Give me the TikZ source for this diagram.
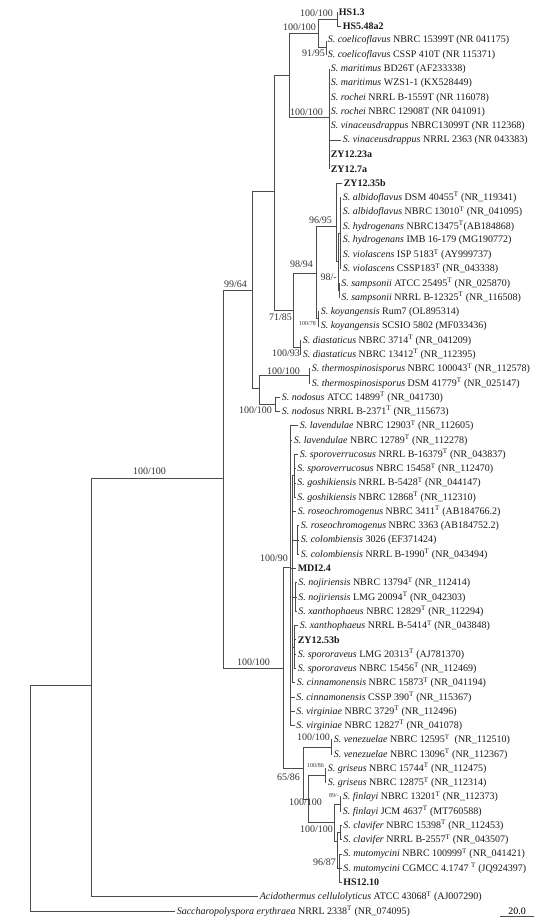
\documentclass[tikz,border=0pt]{standalone}
\usepackage{fontspec}
\setmainfont{Liberation Serif}
\newcommand{\strep}[1]{\textit{S. #1}}
\newcommand{\tsup}{\textsuperscript{T}}

\begin{document}
\begin{tikzpicture}[x=1pt, y=-14.27pt, font=\fontsize{10}{12}\selectfont,
  branch/.style={draw=black!70, line width=0.8pt},
  leaf/.style={anchor=west, inner xsep=1.6pt, inner ysep=0pt, text=black!90},
  boot/.style={anchor=east, inner sep=0pt, text=black!80},
  tinyboot/.style={boot, font=\fontsize{6}{7}\selectfont}]
  \useasboundingbox (0,-0.841) rectangle (554,63.70);

  %% Leaves (top to bottom)
  \node[leaf] (hsa)  at (337,0)  {\textbf{HS1.3}};
  \node[leaf] (hsb)  at (341,1)  {\textbf{HS5.48a2}};
  \node[leaf] (coea) at (326,2)  {\strep{coelicoflavus} NBRC 15399T (NR 041175)};
  \node[leaf] (coeb) at (326,3)  {\strep{coelicoflavus} CSSP 410T (NR 115371)};
  \node[leaf] (mara) at (329,4)  {\strep{maritimus} BD26T (AF233338)};
  \node[leaf] (marb) at (329,5)  {\strep{maritimus} WZS1-1 (KX528449)};
  \node[leaf] (roca) at (329,6)  {\strep{rochei} NRRL B-1559T (NR 116078)};
  \node[leaf] (rocb) at (329,7)  {\strep{rochei} NBRC 12908T (NR 041091)};
  \node[leaf] (vina) at (329,8)  {\strep{vinaceusdrappus} NBRC13099T (NR 112368)};
  \node[leaf] (vinb) at (341,9)  {\strep{vinaceusdrappus} NRRL 2363 (NR 043383)};
  \node[leaf] (zya)  at (329,10) {\textbf{ZY12.23a}};
  \node[leaf] (zyb)  at (329,11) {\textbf{ZY12.7a}};
  \node[leaf] (zyc)  at (342,12) {\textbf{ZY12.35b}};
  \node[leaf] (alba) at (341,13) {\strep{albidoflavus} DSM 40455\tsup{} (NR\_119341)};
  \node[leaf] (albb) at (341,14) {\strep{albidoflavus} NBRC 13010\tsup{} (NR\_041095)};
  \node[leaf] (hyda) at (341,15) {\strep{hydrogenans} NBRC13475\tsup(AB184868)};
  \node[leaf] (hydb) at (341,16) {\strep{hydrogenans} IMB 16-179 (MG190772)};
  \node[leaf] (vioa) at (341,17) {\strep{violascens} ISP 5183\tsup{} (AY999737)};
  \node[leaf] (viob) at (341,18) {\strep{violascens} CSSP183\tsup{} (NR\_043338)};
  \node[leaf] (sama) at (339.5,19) {\strep{sampsonii} ATCC 25495\tsup{} (NR\_025870)};
  \node[leaf] (samb) at (339.5,20) {\strep{sampsonii} NRRL B-12325\tsup{} (NR\_116508)};
  \node[leaf] (koya) at (319,21) {\strep{koyangensis} Rum7 (OL895314)};
  \node[leaf] (koyb) at (319,22) {\strep{koyangensis} SCSIO 5802 (MF033436)};
  \node[leaf] (diaa) at (301,23) {\strep{diastaticus} NBRC 3714\tsup{} (NR\_041209)};
  \node[leaf] (diab) at (301,24) {\strep{diastaticus} NBRC 13412\tsup{} (NR\_112395)};
  \node[leaf] (thea) at (310,25) {\strep{thermospinosisporus} NBRC 100043\tsup{} (NR\_112578)};
  \node[leaf] (theb) at (310,26) {\strep{thermospinosisporus} DSM 41779\tsup{} (NR\_025147)};
  \node[leaf] (noda) at (280,27) {\strep{nodosus} ATCC 14899\tsup{} (NR\_041730)};
  \node[leaf] (nodb) at (280,28) {\strep{nodosus} NRRL B-2371\tsup{} (NR\_115673)};
  \node[leaf] (lava) at (298,29) {\strep{lavendulae} NBRC 12903\tsup{} (NR\_112605)};
  \node[leaf] (lavb) at (292,30) {\strep{lavendulae} NBRC 12789\tsup{} (NR\_112278)};
  \node[leaf] (spva) at (298,31) {\strep{sporoverrucosus} NRRL B-16379\tsup{} (NR\_043837)};
  \node[leaf] (spvb) at (295.5,32) {\strep{sporoverrucosus} NBRC 15458\tsup{} (NR\_112470)};
  \node[leaf] (gosa) at (295.5,33) {\strep{goshikiensis} NRRL B-5428\tsup{} (NR\_044147)};
  \node[leaf] (gosb) at (295.5,34) {\strep{goshikiensis} NBRC 12868\tsup{} (NR\_112310)};
  \node[leaf] (rosa) at (296,35) {\strep{roseochromogenus} NBRC 3411\tsup{} (AB184766.2)};
  \node[leaf] (rosb) at (299,36) {\strep{roseochromogenus} NBRC 3363 (AB184752.2)};
  \node[leaf] (cola) at (299,37) {\strep{colombiensis} 3026 (EF371424)};
  \node[leaf] (colb) at (299,38) {\strep{colombiensis} NRRL B-1990\tsup{} (NR\_043494)};
  \node[leaf] (mdi)  at (296,39) {\textbf{MDI2.4}};
  \node[leaf] (noja) at (296.5,40) {\strep{nojiriensis} NBRC 13794\tsup{} (NR\_112414)};
  \node[leaf] (nojb) at (296.5,41) {\strep{nojiriensis} LMG 20094\tsup{} (NR\_042303)};
  \node[leaf] (xana) at (296.5,42) {\strep{xanthophaeus} NBRC 12829\tsup{} (NR\_112294)};
  \node[leaf] (xanb) at (298,43) {\strep{xanthophaeus} NRRL B-5414\tsup{} (NR\_043848)};
  \node[leaf] (zyd)  at (296,44) {\textbf{ZY12.53b}};
  \node[leaf] (spra) at (296,45) {\strep{spororaveus} LMG 20313\tsup{} (AJ781370)};
  \node[leaf] (sprb) at (296,46) {\strep{spororaveus} NBRC 15456\tsup{} (NR\_112469)};
  \node[leaf] (cina) at (295,47) {\strep{cinnamonensis} NBRC 15873\tsup{} (NR\_041194)};
  \node[leaf] (cinb) at (294.5,48) {\strep{cinnamonensis} CSSP 390\tsup{} (NR\_115367)};
  \node[leaf] (vira) at (294.5,49) {\strep{virginiae} NBRC 3729\tsup{} (NR\_112496)};
  \node[leaf] (virb) at (294.5,50) {\strep{virginiae} NBRC 12827\tsup{} (NR\_041078)};
  \node[leaf] (vena) at (332,51) {\strep{venezuelae} NBRC 12595\tsup{}\ \ (NR\_112510)};
  \node[leaf] (venb) at (332,52) {\strep{venezuelae} NBRC 13096\tsup{} (NR\_112367)};
  \node[leaf] (gria) at (326,53) {\strep{griseus} NBRC 15744\tsup{} (NR\_112475)};
  \node[leaf] (grib) at (326,54) {\strep{griseus} NBRC 12875\tsup{} (NR\_112314)};
  \node[leaf] (fina) at (341,55) {\strep{finlayi} NBRC 13201\tsup{} (NR\_112373)};
  \node[leaf] (finb) at (341,56) {\strep{finlayi} JCM 4637\tsup{} (MT760588)};
  \node[leaf] (claa) at (341.5,57) {\strep{clavifer} NBRC 15398\tsup{} (NR\_112453)};
  \node[leaf] (clab) at (341.5,58) {\strep{clavifer} NRRL B-2557\tsup{} (NR\_043507)};
  \node[leaf] (muta) at (341.5,59) {\strep{mutomycini} NBRC 100999\tsup{} (NR\_041421)};
  \node[leaf] (mutb) at (341.5,60) {\strep{mutomycini} CGMCC 4.1747 \tsup{} (JQ924397)};
  \node[leaf] (hsc)  at (341.5,61) {\textbf{HS12.10}};
  \node[leaf] (acid) at (258,62) {\textit{Acidothermus cellulolyticus} ATCC 43068\tsup{} (AJ007290)};
  \node[leaf] (sacc) at (175,63) {\textit{Saccharopolyspora erythraea} NRRL 2338\tsup{} (NR\_074095)};

  %% Internal nodes
  \coordinate (nH)   at (337,0.5);
  \coordinate (nC1)  at (326,2.5);
  \coordinate (nG2)  at (318,1.5);
  \coordinate (nM)   at (329,7.4);
  \coordinate (nG1)  at (289,4.45);
  \coordinate (nIC)  at (340,15.5);
  \coordinate (nSA)  at (339,19.5);
  \coordinate (nN98) at (338,17.5);
  \coordinate (nA96) at (336,15);
  \coordinate (nKO)  at (318,21.5);
  \coordinate (nA98) at (316,18.3);
  \coordinate (nDI)  at (300,23.5);
  \coordinate (nK)   at (293,20.9);
  \coordinate (nG0)  at (274,12.6);
  \coordinate (nTH)  at (309,25.5);
  \coordinate (nNO)  at (275,27.5);
  \coordinate (nTN)  at (259,26.4);
  \coordinate (nN252) at (252,19.5);
  \coordinate (nSG)  at (294,32.5);
  \coordinate (nRC)  at (297,37);
  \coordinate (nNX)  at (295,41);
  \coordinate (nXS)  at (294,44.5);
  \coordinate (nIN)  at (292,39);
  \coordinate (nN90) at (290,38.9);
  \coordinate (nVE)  at (331,51.5);
  \coordinate (nGS)  at (325,53.5);
  \coordinate (nFI)  at (340,55.5);
  \coordinate (nCL)  at (340,57.5);
  \coordinate (nMU)  at (339,60);
  \coordinate (nW)   at (337,58.1);
  \coordinate (nZ)   at (334,56.8);
  \coordinate (nX)   at (308,55.2);
  \coordinate (nV65) at (303,53.0);
  \coordinate (nL283) at (283,46.0);
  \coordinate (nR223) at (223,32.7);
  \coordinate (nR92) at (91,47.2);
  \coordinate (nRoot) at (30,55.1);

  %% Branches
  \draw[branch] (nRoot) |- (nR92) (nRoot) |- (sacc.west);
  \draw[branch] (nR92) |- (nR223) (nR92) |- (acid.west);
  \draw[branch] (nR223) |- (nN252) (nR223) |- (nL283);
  \draw[branch] (nN252) |- (nG0) (nN252) |- (nTN);
  \draw[branch] (nG0) |- (nG1) (nG0) |- (nK);
  \draw[branch] (nG1) |- (nG2) (nG1) |- (nM);
  \draw[branch] (nG2) |- (nH) (nG2) |- (nC1);
  \draw[branch] (nH) |- (hsa.west) (nH) |- (hsb.west);
  \draw[branch] (nC1) |- (coea.west) (nC1) |- (coeb.west);
  \draw[branch] (nM) |- (mara.west) (nM) |- (marb.west) (nM) |- (roca.west)
    (nM) |- (rocb.west) (nM) |- (vina.west) (nM) |- (vinb.west)
    (nM) |- (zya.west) (nM) |- (zyb.west);
  \draw[branch] (nK) |- (nA98) (nK) |- (nDI);
  \draw[branch] (nA98) |- (nA96) (nA98) |- (nKO);
  \draw[branch] (nA96) |- (zyc.west) (nA96) |- (nN98);
  \draw[branch] (nN98) |- (nIC) (nN98) |- (nSA);
  \draw[branch] (nIC) |- (alba.west) (nIC) |- (albb.west) (nIC) |- (hyda.west)
    (nIC) |- (hydb.west) (nIC) |- (vioa.west) (nIC) |- (viob.west);
  \draw[branch] (nSA) |- (sama.west) (nSA) |- (samb.west);
  \draw[branch] (nKO) |- (koya.west) (nKO) |- (koyb.west);
  \draw[branch] (nDI) |- (diaa.west) (nDI) |- (diab.west);
  \draw[branch] (nTN) |- (nTH) (nTN) |- (nNO);
  \draw[branch] (nTH) |- (thea.west) (nTH) |- (theb.west);
  \draw[branch] (nNO) |- (noda.west) (nNO) |- (nodb.west);
  \draw[branch] (nL283) |- (nN90) (nL283) |- (nV65);
  \draw[branch] (nN90) |- (lava.west) (nN90) |- (lavb.west) (nN90) |- (nIN)
    (nN90) |- (cinb.west) (nN90) |- (vira.west) (nN90) |- (virb.west);
  \draw[branch] (nIN) |- (nSG) (nIN) |- (rosa.west) (nIN) |- (nRC) (nIN) |- (mdi.west)
    (nIN) |- (nNX) (nIN) |- (nXS) (nIN) |- (cina.west);
  \draw[branch] (nSG) |- (spva.west) (nSG) |- (spvb.west) (nSG) |- (gosa.west) (nSG) |- (gosb.west);
  \draw[branch] (nRC) |- (rosb.west) (nRC) |- (cola.west) (nRC) |- (colb.west);
  \draw[branch] (nNX) |- (noja.west) (nNX) |- (nojb.west) (nNX) |- (xana.west);
  \draw[branch] (nXS) |- (xanb.west) (nXS) |- (zyd.west) (nXS) |- (spra.west) (nXS) |- (sprb.west);
  \draw[branch] (nV65) |- (nVE) (nV65) |- (nX);
  \draw[branch] (nVE) |- (vena.west) (nVE) |- (venb.west);
  \draw[branch] (nX) |- (nGS) (nX) |- (nZ);
  \draw[branch] (nGS) |- (gria.west) (nGS) |- (grib.west);
  \draw[branch] (nZ) |- (nFI) (nZ) |- (nW);
  \draw[branch] (nFI) |- (fina.west) (nFI) |- (finb.west);
  \draw[branch] (nW) |- (nCL) (nW) |- (nMU);
  \draw[branch] (nCL) |- (claa.west) (nCL) |- (clab.west);
  \draw[branch] (nMU) |- (muta.west) (nMU) |- (mutb.west) (nMU) |- (hsc.west);

  %% Bootstrap values
  \node[boot] (bHS)  at (333,0.07)  {100/100};
  \node[boot] (bG2)  at (316,1.05)  {100/100};
  \node[boot] (bC1)  at (325,2.87)  {91/95};
  \node[boot] (bM)   at (323,7.0)   {100/100};
  \node[boot] (bA96) at (332,14.6)  {96/95};
  \node[boot] (bA98) at (313,17.7)  {98/94};
  \node[boot] (bN98) at (337,18.6)  {98/-};
  \node[boot] (bK)   at (292,21.4)  {71/85};
  \node[tinyboot] (bKO) at (316,21.8) {100/78};
  \node[boot] (bDI)  at (300,23.9)  {100/93};
  \node[boot] (bTH)  at (300,25.2)  {100/100};
  \node[boot] (bNO)  at (272,27.9)  {100/100};
  \node[boot] (bN252) at (247,19.1) {99/64};
  \node[boot] (bR223) at (166,32.2) {100/100};
  \node[boot] (bL283) at (270,45.6) {100/100};
  \node[boot] (bN90) at (288,38.3)  {100/90};
  \node[boot] (bV65) at (300,53.6)  {65/86};
  \node[boot] (bVE)  at (330,50.8)  {100/100};
  \node[tinyboot] (bGS) at (324,52.8) {100/86};
  \node[tinyboot] (bFI) at (339,54.9) {89/-};
  \node[boot] (bX)   at (322,55.4)  {100/100};
  \node[boot] (bZ)   at (333,57.25) {100/100};
  \node[boot] (bMU)  at (336,59.6)  {96/87};

  %% Scale bar
  \coordinate (sbl) at (500,63.35);
  \coordinate (sbr) at (534,63.35);
  \draw[branch] (sbl) -- (sbr) node[midway, above=0.6pt, inner sep=0pt] (sblab) {20.0};
\end{tikzpicture}
\end{document}
